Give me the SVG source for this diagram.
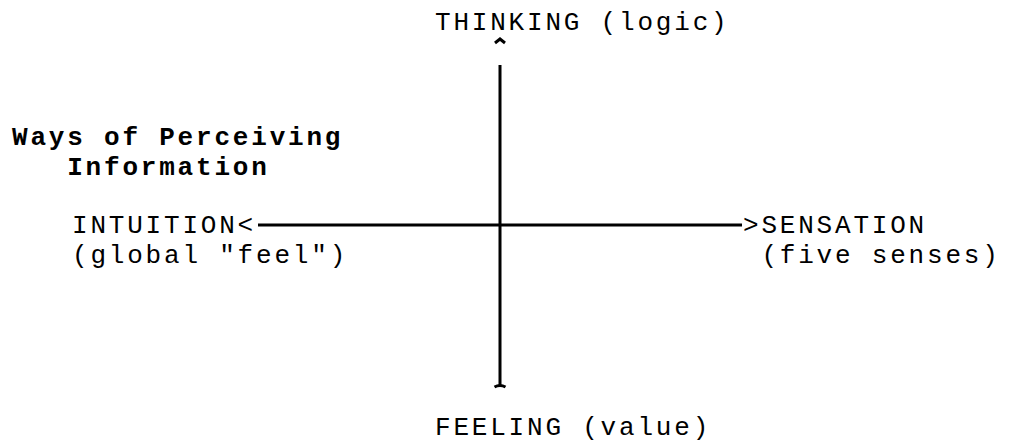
<svg xmlns="http://www.w3.org/2000/svg" width="1009" height="443" viewBox="0 0 1009 443">
<style>
text{font-family:"Liberation Mono","Courier New",monospace;font-size:26px;letter-spacing:2.8px;fill:#000}
.b{font-weight:bold}
.ax{stroke:#000;stroke-width:3;fill:none}
</style>
<rect width="1009" height="443" fill="#fff"/>
<g id="connectors">
<line class="ax" x1="500" y1="65" x2="500" y2="387"/>
<path class="ax" d="M494.5,387 Q500,384 505.5,387" stroke-width="2"/>
<path class="ax" d="M495,43 L500,39 L505,43" stroke-width="2"/>
<line class="ax" x1="258" y1="225" x2="742" y2="225"/>
</g>
<g id="title"><text class="b" x="12" y="145">Ways of Perceiving</text><text class="b" x="12" y="175" xml:space="preserve">   Information</text></g>
<g id="thinking"><text x="435" y="30">THINKING (logic)</text></g>
<g id="intuition"><text x="72" y="233">INTUITION&lt;</text><text x="72" y="263">(global "feel")</text></g>
<g id="sensation"><text x="743" y="233">&gt;SENSATION</text><text x="743" y="263" xml:space="preserve"> (five senses)</text></g>
<g id="feeling"><text x="435" y="435">FEELING (value)</text></g>
</svg>
